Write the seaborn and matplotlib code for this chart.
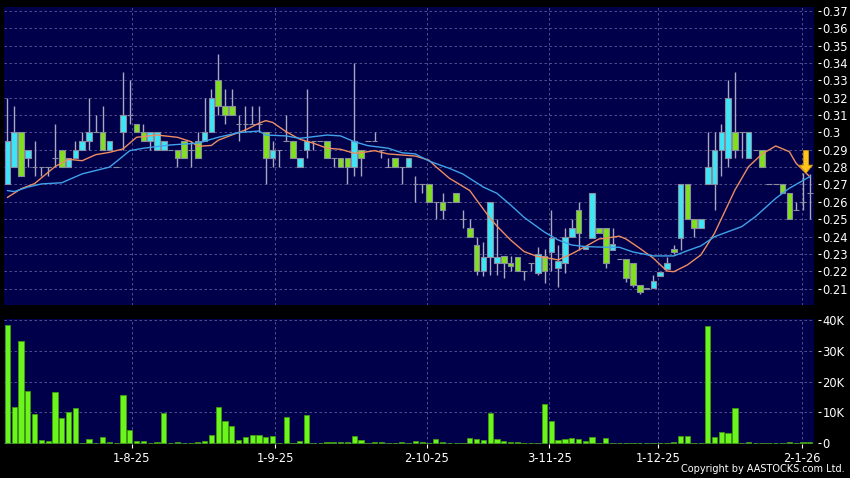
import numpy as np
import pandas as pd
import matplotlib
matplotlib.use("Agg")
import matplotlib.pyplot as plt
import seaborn as sns

# daily candles (index = trading day on the chart)
opens = [0.270, 0.280, 0.300, 0.285, 0.280, 0.280, 0.280, 0.285, 0.290, 0.280,
         0.285, 0.290, 0.295, 0.300, 0.300, 0.290, 0.280, 0.300, 0.310, 0.305,
         0.300, 0.295, 0.290, 0.290, 0.290, 0.290, 0.295, 0.290, 0.295, 0.295,
         0.300, 0.330, 0.315, 0.315, 0.305, 0.305, 0.305, 0.305, 0.300, 0.285,
         0.290, 0.295, 0.295, 0.280, 0.290, 0.295, 0.295, 0.295, 0.285, 0.285,
         0.285, 0.280, 0.290, 0.295, 0.295, 0.290, 0.280, 0.285, 0.280, 0.280,
         0.270, 0.270, 0.270, 0.260, 0.260, 0.260, 0.265, 0.250, 0.245, 0.235,
         0.220, 0.228, 0.225, 0.229, 0.225, 0.228, 0.220, 0.225, 0.219, 0.229,
         0.231, 0.222, 0.225, 0.240, 0.255, 0.233, 0.239, 0.245, 0.245, 0.2325,
         0.227, 0.227, 0.2245, 0.212, 0.2098, 0.2102, 0.2173, 0.221, 0.2326, 0.239,
         0.270, 0.250, 0.245, 0.270, 0.270, 0.290, 0.285, 0.300, 0.300, 0.285,
         0.290, 0.290, 0.270, 0.270, 0.270, 0.265, 0.255, 0.260, 0.265]
highs = [0.320, 0.315, 0.300, 0.290, 0.295, 0.280, 0.280, 0.305, 0.290, 0.285,
         0.295, 0.300, 0.320, 0.310, 0.315, 0.295, 0.280, 0.335, 0.330, 0.305,
         0.305, 0.300, 0.300, 0.295, 0.290, 0.290, 0.295, 0.295, 0.300, 0.320,
         0.325, 0.345, 0.325, 0.325, 0.310, 0.315, 0.315, 0.315, 0.300, 0.295,
         0.290, 0.310, 0.295, 0.285, 0.325, 0.295, 0.295, 0.295, 0.285, 0.285,
         0.285, 0.340, 0.290, 0.295, 0.300, 0.290, 0.285, 0.285, 0.280, 0.285,
         0.275, 0.270, 0.270, 0.260, 0.265, 0.260, 0.265, 0.255, 0.250, 0.240,
         0.237, 0.260, 0.250, 0.229, 0.229, 0.228, 0.220, 0.225, 0.234, 0.233,
         0.255, 0.235, 0.245, 0.250, 0.260, 0.234, 0.265, 0.245, 0.245, 0.245,
         0.227, 0.227, 0.2245, 0.212, 0.2105, 0.2178, 0.2197, 0.228, 0.235, 0.270,
         0.270, 0.250, 0.250, 0.300, 0.300, 0.305, 0.330, 0.335, 0.300, 0.300,
         0.290, 0.290, 0.270, 0.270, 0.270, 0.265, 0.260, 0.2765, 0.276]
lows = [0.270, 0.280, 0.275, 0.280, 0.275, 0.275, 0.275, 0.280, 0.280, 0.280,
        0.285, 0.290, 0.290, 0.300, 0.290, 0.290, 0.280, 0.290, 0.305, 0.300,
        0.295, 0.290, 0.290, 0.290, 0.290, 0.280, 0.285, 0.280, 0.285, 0.295,
        0.300, 0.310, 0.305, 0.310, 0.295, 0.300, 0.305, 0.300, 0.270, 0.280,
        0.280, 0.295, 0.285, 0.280, 0.285, 0.290, 0.295, 0.285, 0.280, 0.280,
        0.270, 0.275, 0.275, 0.295, 0.295, 0.285, 0.280, 0.280, 0.270, 0.280,
        0.260, 0.265, 0.260, 0.250, 0.250, 0.260, 0.260, 0.245, 0.240, 0.218,
        0.217, 0.218, 0.218, 0.216, 0.220, 0.220, 0.215, 0.220, 0.218, 0.213,
        0.220, 0.211, 0.219, 0.240, 0.232, 0.233, 0.239, 0.242, 0.222, 0.2325,
        0.227, 0.2135, 0.211, 0.2066, 0.2098, 0.2102, 0.2173, 0.221, 0.230, 0.2325,
        0.250, 0.240, 0.245, 0.270, 0.255, 0.275, 0.280, 0.285, 0.285, 0.285,
        0.290, 0.280, 0.270, 0.270, 0.265, 0.250, 0.255, 0.255, 0.250]
closes = [0.295, 0.300, 0.275, 0.290, 0.280, 0.280, 0.280, 0.285, 0.280, 0.285,
          0.290, 0.295, 0.300, 0.300, 0.290, 0.295, 0.280, 0.310, 0.310, 0.300,
          0.295, 0.300, 0.300, 0.295, 0.290, 0.285, 0.285, 0.290, 0.285, 0.300,
          0.320, 0.315, 0.310, 0.310, 0.305, 0.305, 0.305, 0.305, 0.285, 0.290,
          0.290, 0.295, 0.285, 0.285, 0.295, 0.295, 0.295, 0.285, 0.285, 0.280,
          0.280, 0.295, 0.285, 0.295, 0.295, 0.290, 0.280, 0.280, 0.280, 0.285,
          0.270, 0.270, 0.260, 0.260, 0.255, 0.260, 0.260, 0.250, 0.240, 0.220,
          0.228, 0.260, 0.228, 0.225, 0.223, 0.220, 0.220, 0.225, 0.230, 0.220,
          0.239, 0.226, 0.240, 0.245, 0.242, 0.234, 0.265, 0.242, 0.225, 0.2357,
          0.227, 0.216, 0.212, 0.208, 0.2105, 0.2145, 0.2197, 0.2245, 0.231, 0.270,
          0.250, 0.245, 0.250, 0.280, 0.290, 0.300, 0.320, 0.290, 0.300, 0.300,
          0.290, 0.280, 0.270, 0.270, 0.265, 0.250, 0.255, 0.260, 0.265]
volumes = [38400, 11900, 33300, 17000, 9600, 1000, 650, 16500, 8100, 10300,
           11600, 100, 1300, 200, 2200, 300, 0, 15600, 4300, 900,
           800, 100, 300, 9900, 0, 400, 100, 200, 400, 800,
           2700, 11700, 7200, 5500, 1100, 2100, 2800, 2700, 2200, 2500,
           200, 8500, 0, 900, 9200, 0, 0, 300, 300, 400,
           400, 2400, 1200, 0, 300, 300, 100, 0, 300, 0,
           600, 300, 0, 1500, 500, 0, 0, 200, 1600, 1300,
           1000, 9900, 1500, 800, 300, 300, 0, 100, 100, 12800,
           7100, 1100, 1400, 1800, 1500, 600, 2100, 0, 1600, 100,
           0, 100, 100, 200, 200, 0, 0, 0, 500, 2400,
           2400, 0, 0, 38200, 2200, 3600, 3200, 11600, 0, 300,
           100, 200, 200, 0, 100, 300, 100, 300, 300]

# moving averages (day index, price)
ma_short_day = [0, 2, 4, 7, 9, 11, 13, 15, 17, 19, 22, 25, 27, 28, 30, 31, 33, 35,
                37, 38, 39, 41, 43, 45, 47, 49, 51, 52, 54, 56, 58, 60, 62, 63, 65,
                68, 69, 71, 72, 73, 74, 76, 78, 79, 81, 83, 85, 87, 88, 90, 91, 93,
                95, 97, 98, 100, 102, 104, 107, 109, 111, 113, 115, 116, 118]
ma_short = [0.2625, 0.2675, 0.2705, 0.2803, 0.2845, 0.2837, 0.2872, 0.2885, 0.2905,
            0.2972, 0.2985, 0.2972, 0.2947, 0.2920, 0.2925, 0.2955, 0.2985, 0.3014,
            0.3053, 0.3068, 0.3058, 0.3004, 0.2961, 0.2938, 0.2909, 0.2903, 0.2880,
            0.2883, 0.2895, 0.2876, 0.2870, 0.2864, 0.2840, 0.2803, 0.2736, 0.2665,
            0.2611, 0.2505, 0.2460, 0.2420, 0.2380, 0.2313, 0.2284, 0.2280, 0.2265,
            0.2300, 0.2342, 0.2386, 0.2390, 0.2402, 0.2385, 0.2332, 0.2275, 0.2201,
            0.2197, 0.2236, 0.2294, 0.2419, 0.2668, 0.2803, 0.2876, 0.2922, 0.2889,
            0.2822, 0.2745]
ma_long_day = [0, 1, 3, 5, 8, 11, 15, 16, 18, 20, 24, 28, 31, 34, 37, 38, 41, 43, 47,
               49, 51, 53, 56, 58, 60, 62, 65, 67, 70, 72, 74, 76, 79, 81, 83, 85, 88,
               90, 92, 95, 98, 100, 102, 104, 108, 110, 113, 115, 118]
ma_long = [0.2665, 0.2659, 0.2685, 0.2703, 0.2710, 0.2761, 0.2800, 0.2831, 0.2895,
           0.2909, 0.2928, 0.2938, 0.2972, 0.2999, 0.3008, 0.2985, 0.2980, 0.2966,
           0.2985, 0.2980, 0.2947, 0.2924, 0.2909, 0.2883, 0.2876, 0.2835, 0.2793,
           0.2760, 0.2685, 0.2649, 0.2582, 0.2510, 0.2425, 0.2380, 0.2351, 0.2342,
           0.2338, 0.2338, 0.2311, 0.2288, 0.2288, 0.2318, 0.2346, 0.2399, 0.2457,
           0.2514, 0.2620, 0.2678, 0.2745]

date_labels = ["1-8-25", "1-9-25", "2-10-25", "3-11-25", "1-12-25", "2-1-26"]
date_pos = [18.3, 39.4, 61.7, 79.7, 95.7, 116.9]
arrow_day, arrow_price = 117.45, 0.2765

df = pd.DataFrame({"open": opens, "high": highs, "low": lows, "close": closes,
                   "volume": volumes})
df["day"] = np.arange(len(df))

NAVY = "#00004a"
CYAN = "#3ce6f6"
GREEN = "#80e01e"
VOLGREEN = "#6cf51c"
GRIDC = "#5c5c98"

sns.set_style("dark", rc={"axes.facecolor": NAVY, "figure.facecolor": "black"})
plt.rcParams["font.family"] = ["DejaVu Sans"]

fig = plt.figure(figsize=(8.5, 4.78), dpi=100, facecolor="black")
ax = fig.add_axes([0.0047, 0.3619, 0.9524, 0.6241])
axv = fig.add_axes([0.0047, 0.0705, 0.9524, 0.2621])

# wicks
ax.vlines(df["day"], df["low"], df["high"], color="#a8a8c0", linewidth=1, zorder=2)

# bodies
body_lo = df[["open", "close"]].min(axis=1)
body_h = (df["close"] - df["open"]).abs()
colors = np.where(df["close"] > df["open"], CYAN,
                  np.where(df["close"] < df["open"], GREEN, "#a8a8c0"))
ax.bar(df["day"], body_h, bottom=body_lo, width=0.82, color=colors,
       edgecolor="#8c8ca0", linewidth=0.8, zorder=3)

# moving averages
sns.lineplot(x=ma_short_day, y=ma_short, ax=ax, color="#ee8c62", linewidth=1, zorder=4)
sns.lineplot(x=ma_long_day, y=ma_long, ax=ax, color="#3fa2ea", linewidth=1, zorder=4)

ax.annotate("", xy=(arrow_day, arrow_price), xytext=(arrow_day, arrow_price + 0.013),
            arrowprops=dict(facecolor="#ffc61a", edgecolor="#d09a00", linewidth=0.6,
                            width=3.6, headwidth=9.4, headlength=5.8, shrink=0),
            zorder=6)

# volume
axv.bar(df["day"], df["volume"], width=0.78, color=VOLGREEN, edgecolor="#3f9a10",
        linewidth=0.6, zorder=3)

price_ticks = np.round(np.arange(0.21, 0.3701, 0.01), 2)
ax.set_ylim(0.2005, 0.3725)
ax.set_yticks(price_ticks)
ax.set_yticklabels([f"{v:g}" for v in price_ticks])

axv.set_ylim(-325, 40320)
axv.set_yticks([0, 10000, 20000, 30000, 40000])
axv.set_yticklabels(["0", "10K", "20K", "30K", "40K"])

for a in (ax, axv):
    a.set_xlim(-0.5, 118.56)
    a.set_xticks(date_pos)
    a.grid(True, color=GRIDC, linestyle=(0, (3, 3)), linewidth=0.6)
    a.set_axisbelow(True)
    for s in a.spines.values():
        s.set_visible(False)
    a.spines["right"].set_position(("outward", 2.9))
    a.yaxis.tick_right()
    a.tick_params(axis="y", colors="white", labelsize=8.3, length=2.2, width=0.8,
                  pad=1.4, direction="out")
    a.set_xlabel("")
    a.set_ylabel("")

ax.tick_params(axis="x", length=0, labelbottom=False)
axv.set_xticklabels(date_labels)
axv.tick_params(axis="x", colors="white", labelsize=8.3, length=2.9, width=0.8,
                pad=2.5, direction="out", bottom=True)

fig.text(0.994, 0.008, "Copyright by AASTOCKS.com Ltd.", ha="right", va="bottom",
         color="white", fontsize=7)

fig.savefig("out.png", dpi=100, facecolor="black")
